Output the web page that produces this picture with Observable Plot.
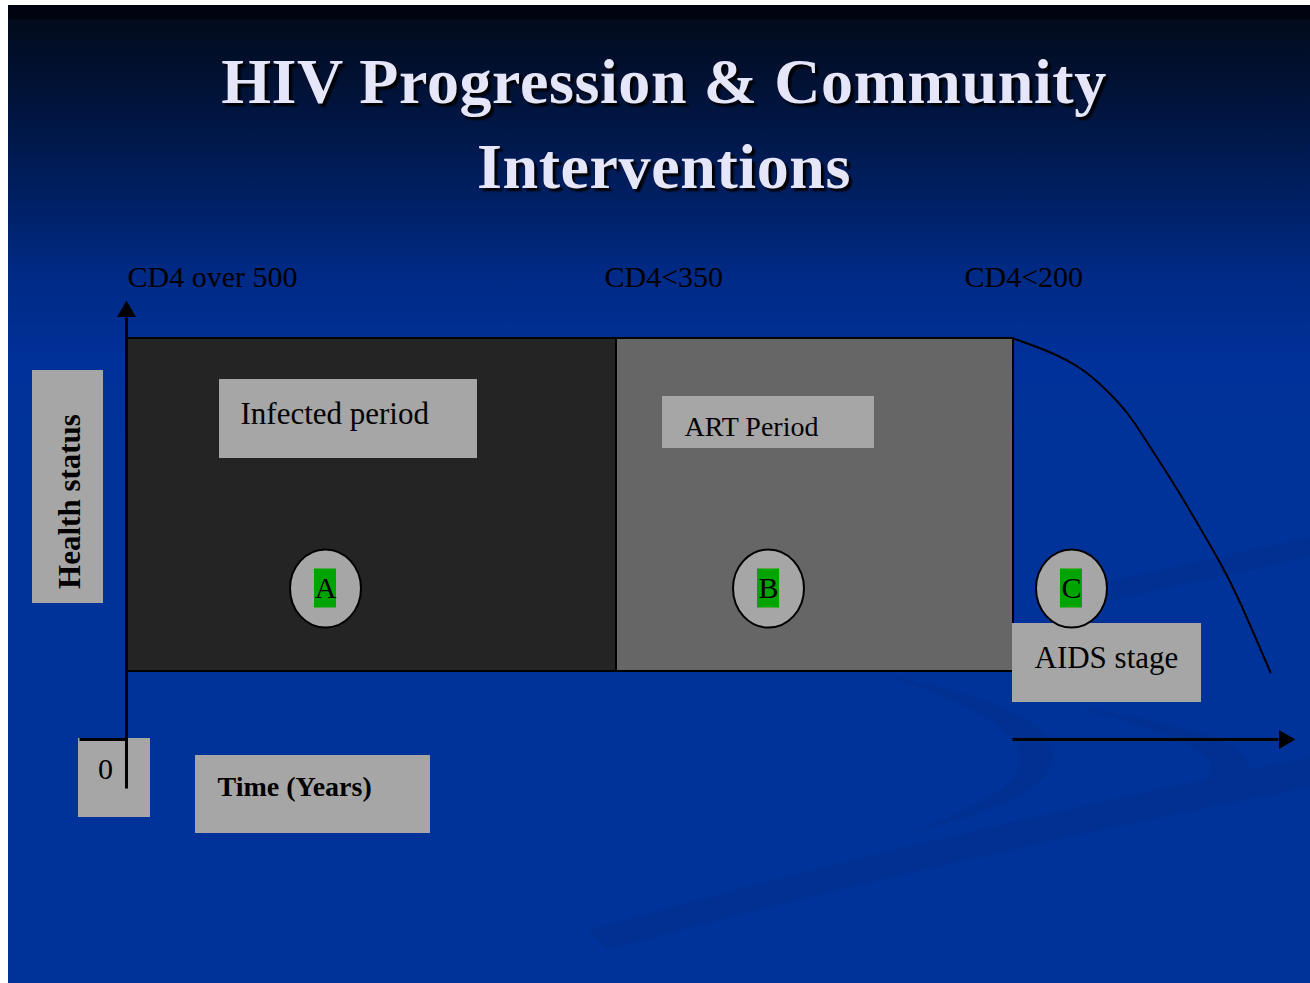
<!DOCTYPE html>
<html><head><meta charset="utf-8">
<script src="https://cdn.jsdelivr.net/npm/d3@7"></script>
<script src="https://cdn.jsdelivr.net/npm/@observablehq/plot@0.6"></script>
<style>
html,body{margin:0;padding:0;background:#fff;width:1310px;height:983px;overflow:hidden}
#slide{position:absolute;left:8px;top:5px;width:1302px;height:978px;overflow:hidden;
background:linear-gradient(to bottom,#00030f 0px,#00040f 14px,#020b1d 15px,#01143d 100px,#001f62 190px,#002a85 270px,#00319a 360px,#003399 440px,#003399 100%)}
#deco{position:absolute;left:0;top:0}
.t{position:absolute;left:0;width:1312px;text-align:center;font-family:"Liberation Serif",serif;font-weight:bold;font-size:64px;line-height:85px;color:#e6e6fa;text-shadow:3px 3px 2px #000;letter-spacing:0.6px;white-space:nowrap}
#chart{position:absolute;left:0;top:235px}
</style></head><body>
<div id="slide">
<svg id="deco" width="1302" height="978">
  <g fill="#002d8a" opacity="0.45">
    <path d="M 580 925 Q 900 835 1302 752 L 1302 782 Q 900 862 600 945 Z"/>
    <path d="M 1030 592 Q 1150 565 1302 532 L 1302 552 Q 1150 585 1035 610 Z"/>
    <path d="M 870 668 Q 1060 705 1045 760 Q 1025 800 900 828 Q 1005 790 1012 760 Q 1020 715 870 668 Z"/>
    <path d="M 1060 700 Q 1250 730 1240 762 Q 1230 790 1150 798 Q 1205 778 1203 760 Q 1195 735 1060 700 Z"/>
  </g>
</svg>
<div class="t" style="top:34px">HIV Progression &amp; Community</div>
<div class="t" style="top:119px">Interventions</div>
<div id="chart"></div>
</div>
<script>
// Periods (time axis units, health-status units)
const periods = ["Infected period", "ART Period"];
const periodStart = [0, 490];
const periodEnd = [490, 887];
const periodLow = 68;
const periodHigh = 401;

// CD4 thresholds along the top
const cd4Labels = ["CD4 over 500", "CD4<350", "CD4<200"];
const cd4X = [1, 478, 838];
const cd4Y = 462;

// Stage markers
const stages = ["A", "B", "C"];
const stageX = [199, 642, 945];
const stageY = 151;

// Decline of health after CD4<200
const declineX = [887, 924, 954, 977, 1001, 1024, 1047, 1071, 1094, 1114, 1144];
const declineY = [401, 387, 371, 352, 326, 292, 256, 216, 176, 136, 67];

// Label boxes
const boxLabels = ["Health status", "Infected period", "ART Period", "0", "Time (Years)", "AIDS stage"];
const boxX1 = [-94, 93, 536, -48, 69, 886];
const boxX2 = [-23, 351, 748, 24, 304, 1075];
const boxY1 = [136, 281, 291, -78, -94, 37];
const boxY2 = [369, 360, 343, 1, -16, 116];

// Axes
const axisSegX1 = [0, -47, 886];
const axisSegY1 = [-49, 0, 0];
const axisSegX2 = [0, 0, 1152];
const axisSegY2 = [422, 0, 0];
const arrowX = [0, 1158];
const arrowY = [428, 0];
const arrowAngle = [0, 90];

const periodData = periods.map((p, i) => ({p, x1: periodStart[i], x2: periodEnd[i]}));
const cd4Data = cd4Labels.map((t, i) => ({t, x: cd4X[i]}));
const stageData = stages.map((s, i) => ({s, x: stageX[i]}));
const declineData = declineX.map((x, i) => ({x, y: declineY[i]}));
const boxData = boxLabels.map((b, i) => ({b, x1: boxX1[i], x2: boxX2[i], y1: boxY1[i], y2: boxY2[i]}));
const segData = axisSegX1.map((x, i) => ({x1: x, y1: axisSegY1[i], x2: axisSegX2[i], y2: axisSegY2[i]}));
const arrowData = arrowX.map((x, i) => ({x, y: arrowY[i], a: arrowAngle[i]}));
const byLabel = Object.fromEntries(boxData.map(d => [d.b, d]));

const ellipse = {
  draw(ctx, size) {
    const r = Math.sqrt(size / Math.PI), rx = r * 0.91, ry = r, k = 0.5523;
    ctx.moveTo(rx, 0);
    ctx.bezierCurveTo(rx, ry * k, rx * k, ry, 0, ry);
    ctx.bezierCurveTo(-rx * k, ry, -rx, ry * k, -rx, 0);
    ctx.bezierCurveTo(-rx, -ry * k, -rx * k, -ry, 0, -ry);
    ctx.bezierCurveTo(rx * k, -ry, rx, -ry * k, rx, 0);
    ctx.closePath();
  }
};

const serif = "Liberation Serif";
const txt = (label, opts) => Plot.text([byLabel[label]], {text: "b", fill: "black", fontFamily: serif, lineAnchor: "middle", ...opts});

const chart = Plot.plot({
  width: 1302,
  height: 743,
  margin: 0,
  x: {domain: [-118, 1184], axis: null},
  y: {domain: [-244, 499], axis: null},
  style: {background: "transparent", overflow: "visible"},
  marks: [
    Plot.rect(periodData, {x1: "x1", x2: "x2", y1: periodLow, y2: periodHigh, fill: (d, i) => i === 0 ? "A" : "B", stroke: "black", strokeWidth: 2}),
    Plot.line(declineData, {x: "x", y: "y", curve: "natural", stroke: "black", strokeWidth: 2}),
    Plot.text(cd4Data, {x: "x", y: cd4Y, text: "t", textAnchor: "start", fill: "black", fontFamily: serif, fontSize: 30, lineAnchor: "middle"}),
    Plot.rect(boxData, {x1: "x1", x2: "x2", y1: "y1", y2: "y2", fill: "#a6a6a6"}),
    Plot.link(segData, {x1: "x1", y1: "y1", x2: "x2", y2: "y2", stroke: "black", strokeWidth: 3}),
    Plot.dot(arrowData, {x: "x", y: "y", rotate: "a", symbol: "triangle", r: 7, fill: "black", stroke: "none"}),
    txt("Infected period", {x: 114, y: 325, textAnchor: "start", fontSize: 31}),
    txt("ART Period", {x: 558, y: 312, textAnchor: "start", fontSize: 28}),
    txt("AIDS stage", {x: 908, y: 81, textAnchor: "start", fontSize: 31}),
    txt("0", {x: -21, y: -30, textAnchor: "middle", fontSize: 30}),
    txt("Time (Years)", {x: 91, y: -48, textAnchor: "start", fontSize: 28, fontWeight: "bold"}),
    txt("Health status", {x: -56, y: 238, textAnchor: "middle", fontSize: 31, fontWeight: "bold", rotate: -90}),
    Plot.dot(stageData, {x: "x", y: stageY, symbol: ellipse, r: 39, fill: "#a6a6a6", stroke: "black", strokeWidth: 2}),
    Plot.rect(stageData, {x1: d => d.x - 11, x2: d => d.x + 11, y1: stageY - 19.5, y2: stageY + 19.5, fill: "#00a400"}),
    Plot.text(stageData, {x: "x", y: stageY, text: "s", fill: "black", fontFamily: serif, fontSize: 30, lineAnchor: "middle"})
  ],
  color: {domain: ["A", "B"], range: ["#242424", "#666666"]}
});
document.getElementById("chart").appendChild(chart);
</script>
</body></html>
